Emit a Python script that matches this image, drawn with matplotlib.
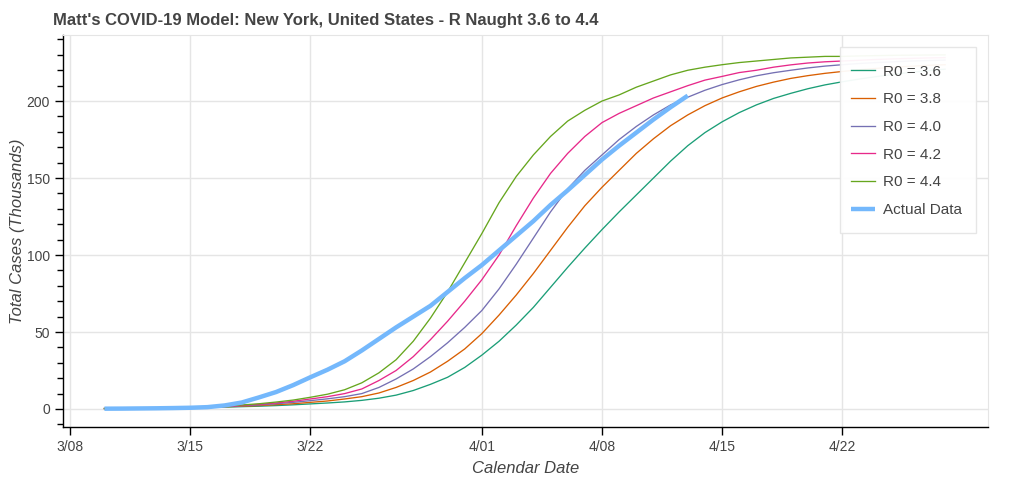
import numpy as np
import pandas as pd
import matplotlib
matplotlib.use("Agg")
import matplotlib.pyplot as plt
from matplotlib.ticker import MultipleLocator
from matplotlib.patches import Rectangle

plt.rcParams['font.family'] = ['Liberation Sans', 'DejaVu Sans']

# Model runs: daily values from 3/10 to 4/28 (thousands of cases)
model_dates = pd.date_range('2020-03-10', '2020-04-28', freq='D')
r0_labels = ['R0 = 3.6', 'R0 = 3.8', 'R0 = 4.0', 'R0 = 4.2', 'R0 = 4.4']
r0_36 = [0.30, 0.37, 0.45, 0.55, 0.67, 0.81, 0.99, 1.2, 1.5, 1.8, 2.2, 2.7, 3.3,
         3.9, 4.6, 5.6, 7, 9, 12, 16, 20.6, 27, 35, 44, 54.5, 66, 79, 92, 104.5, 116.5,
         128, 139, 150, 161, 171, 179.5, 186.5, 192.5, 197.5, 201.7, 205, 208, 210.5, 212.5,
         214.3, 215.9, 217.3, 218.6, 219.7, 220.7]
r0_38 = [0.30, 0.37, 0.47, 0.58, 0.73, 0.91, 1.1, 1.4, 1.8, 2.2, 2.8, 3.4, 4.3,
         5.2, 6.5, 8, 10.4, 14, 18.5, 24, 31, 39, 49, 61, 74, 88, 103, 118, 132, 144,
         155, 166, 175.5, 184, 191, 197, 202, 206, 209.5, 212.3, 214.7, 216.5, 218, 219.2,
         220.3, 221.2, 222, 222.6, 223.2, 223.6]
r0_40 = [0.30, 0.38, 0.49, 0.62, 0.79, 1.0, 1.3, 1.6, 2.1, 2.6, 3.4, 4.3, 5.4,
         6.6, 8, 10, 14, 19.5, 26, 34, 43, 53, 64, 78, 94, 111, 128, 143, 155, 165,
         175, 183.5, 191, 197.5, 202.5, 207, 210.7, 213.8, 216.4, 218.4, 220, 221.5, 222.7, 223.6,
         224.4, 225, 225.5, 226, 226.3, 226.6]
r0_42 = [0.30, 0.39, 0.50, 0.65, 0.84, 1.1, 1.4, 1.8, 2.3, 3.0, 3.9, 5.0, 6.5,
         8, 10, 13, 18.5, 25, 34, 45, 57, 70, 84, 100, 119, 137, 153, 166, 177, 186,
         192, 197, 202, 206, 210, 213.6, 216, 218.5, 220, 222, 223.5, 224.7, 225.5, 226,
         226.5, 227, 227.4, 227.7, 228, 228.2]
r0_44 = [0.30, 0.39, 0.52, 0.68, 0.89, 1.2, 1.5, 2.0, 2.6, 3.4, 4.5, 5.8, 7.6,
         9.6, 12.5, 17, 23.5, 32, 44, 59, 76, 95, 114, 134, 151, 165, 177, 187, 194, 200,
         204, 209, 213, 217, 220, 222, 223.6, 225, 226, 227, 228, 228.5, 229, 229,
         229.3, 229.5, 229.7, 229.8, 229.9, 230]
r0_colors = ['#1b9e77', '#d95f02', '#7570b3', '#e7298a', '#66a61e']

# Reported cases: 3/10 to 4/13 (thousands)
actual_dates = pd.date_range('2020-03-10', '2020-04-13', freq='D')
actual = [0.2, 0.25, 0.35, 0.45, 0.6, 0.8, 1.2, 2.3, 4.2, 7.5, 11, 15.5, 20.6,
          25.5, 31, 38, 45.5, 53, 60, 67, 76, 85, 93.5, 103, 112.5, 122,
          132.5, 142, 152, 162, 171, 179.5, 188, 196, 203.5]

tick_dates = pd.to_datetime(['2020-03-08', '2020-03-15', '2020-03-22', '2020-04-01',
                             '2020-04-08', '2020-04-15', '2020-04-22'])
tick_labels = ['3/08', '3/15', '3/22', '4/01', '4/08', '4/15', '4/22']

W, H = 1024, 482
fig = plt.figure(figsize=(W/100, H/100), dpi=100)
ax = fig.add_axes([63/W, 1-427/H, (988-63)/W, (427-35)/H])

for vals, lab, col in zip([r0_36, r0_38, r0_40, r0_42, r0_44], r0_labels, r0_colors):
    ax.plot(model_dates, vals, color=col, lw=0.95, label=lab)
ax.plot(actual_dates, actual, color='#74b8fc', lw=3.2, label='Actual Data',
        solid_capstyle='butt')

start = pd.Timestamp('2020-03-08')
ax.set_xlim(start - pd.Timedelta(hours=10), start + pd.Timedelta(days=53.5))
ax.set_ylim(-11.7, 242.9)

ax.set_xticks(tick_dates)
ax.set_xticklabels(tick_labels)
ax.yaxis.set_major_locator(MultipleLocator(50))
ax.yaxis.set_minor_locator(MultipleLocator(10))

ax.grid(True, color='#e5e5e5', lw=1)
ax.set_axisbelow(True)
for s in ['top', 'right']:
    ax.spines[s].set_color('#e5e5e5')
for s in ['left', 'bottom']:
    ax.spines[s].set_color('black')
    ax.spines[s].set_linewidth(1)
ax.tick_params(axis='both', which='major', direction='out', length=6, width=1,
               labelsize=10, labelcolor='#444444')
ax.tick_params(axis='y', which='minor', direction='out', length=4, width=1)

ax.set_xlabel('Calendar Date', fontsize=12, style='italic', color='#444444')
ax.xaxis.set_label_coords(0.5, -(461-427)/392)
ax.set_ylabel('Total Cases (Thousands)', fontsize=12, style='italic', color='#444444')
ax.yaxis.set_label_coords(-(63-25)/925, 0.5)

fig.text(53/W, 1-20/H, "Matt's COVID-19 Model: New York, United States - R Naught 3.6 to 4.4",
         fontsize=12, fontweight='bold', color='#444444', va='center', ha='left')

# legend box drawn separately so its padding can match the reference
box = Rectangle((840/W, 1-233/H), (976-840)/W, (233-47)/H, transform=fig.transFigure,
                facecolor='white', alpha=0.95, edgecolor='#e5e5e5', lw=1, zorder=4,
                clip_on=False)
ax.add_patch(box)
leg = ax.legend(loc='upper left', bbox_to_anchor=((851-63)/925, (427-64.5)/392),
                fontsize=11, frameon=False, borderpad=0, labelspacing=0.9,
                handlelength=1.6, handletextpad=0.5, borderaxespad=0)
leg.set_zorder(5)
for t in leg.get_texts():
    t.set_color('#444444')

fig.savefig('out.png', dpi=100)
